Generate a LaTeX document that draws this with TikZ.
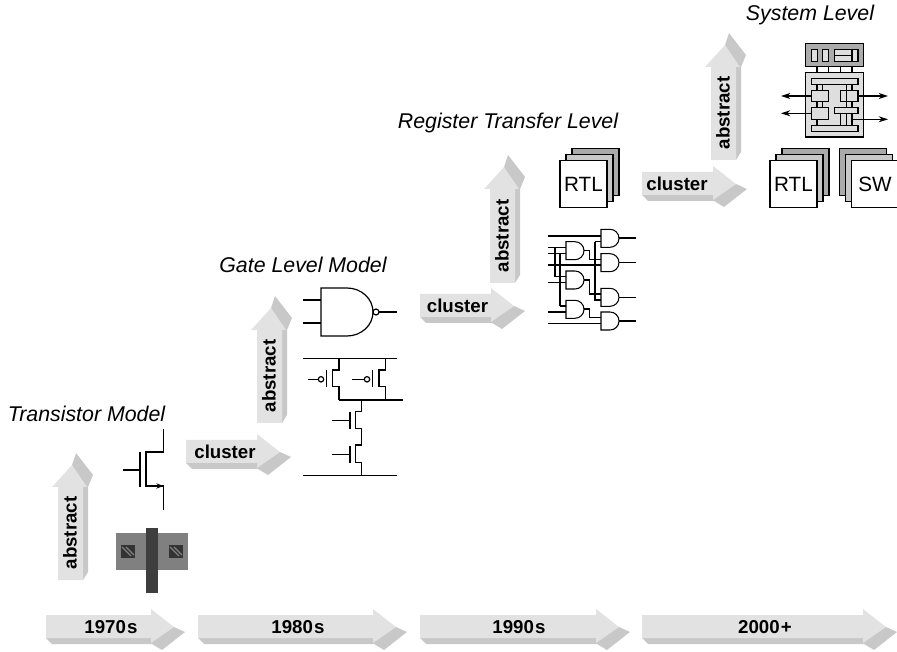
\documentclass[tikz,border=0pt]{standalone}
\usepackage{fontspec}
\setmainfont{Liberation Sans}
\usetikzlibrary{arrows.meta}
\definecolor{facecol}{RGB}{226, 226, 226}
\definecolor{sidecol}{RGB}{200, 200, 200}
\definecolor{polycol}{RGB}{62, 62, 62}
\definecolor{diffcol}{RGB}{128, 128, 128}
\definecolor{stackmid}{RGB}{200, 200, 200}
\definecolor{stackback}{RGB}{170, 170, 170}
\definecolor{sysdark}{RGB}{172, 172, 172}
\definecolor{syslight}{RGB}{222, 222, 222}

% flow arrow pointing right: name, left x, head x, top y, text x, text
\newcommand{\flowright}[6]{
    \fill[sidecol] (#2,#4+23) -- (#2+6,#4+29) -- (#3+1,#4+29) -- (#3+11,#4+35) -- (#3+34,#4+17) -- (#3+23,#4+12) -- (#3,#4+23) -- cycle;
    \fill[facecol] (#2,#4) -- (#3,#4) -- (#3,#4-6) -- (#3+23,#4+12) -- (#3,#4+28) -- (#3,#4+23) -- (#2,#4+23) -- cycle;
    \node[flowtext] (#1) at (#5,#4+12) {#6};
}
% flow arrow pointing up: name, left x, head y, bottom y
\newcommand{\flowup}[4]{
    \fill[sidecol] (#2+25,#4) -- (#2+30,#4-8) -- (#2+30,#3) -- (#2+35,#3-12) -- (#2+18,#3-34) -- (#2+14,#3-22) -- (#2+25,#3) -- cycle;
    \fill[facecol] (#2,#4) -- (#2+25,#4) -- (#2+25,#3) -- (#2+29,#3) -- (#2+14,#3-22) -- (#2-6,#3) -- (#2,#3) -- cycle;
    \node[flowtext, rotate=90] (#1) at (#2+12,#4-47) {abstract};
}
% stack of three sheets: left x and top y of the front sheet, step to the back sheets
\newcommand{\sheets}[3]{
    \draw[sheet, fill=stackback] (#1+2*#3,#2-12) rectangle ++(47,47);
    \draw[sheet, fill=stackmid] (#1+#3,#2-6) rectangle ++(47,47);
    \draw[sheet, fill=white] (#1,#2) rectangle ++(47,47);
}

\begin{document}
\begin{tikzpicture}[
        x=0.75pt, y=-0.75pt,
        flowtext/.style={font=\bfseries\fontsize{14}{15}\selectfont, inner sep=0pt},
        title/.style={font=\itshape\fontsize{16}{18}\selectfont, inner sep=0pt},
        sheettext/.style={font=\fontsize{15.5}{18}\selectfont, inner sep=0pt},
        wire/.style={line width=0.9pt},
        sheet/.style={line width=0.8pt},
        sysbox/.style={draw, line width=0.9pt, fill=syslight},
        gatebox/.style={draw, line width=0.8pt, fill=white}
    ]
    \useasboundingbox (0,0) rectangle (897,652);

    % Time line
    \flowright{t1970}{46}{151}{615}{111}{1970\kern1pt s}
    \flowright{t1980}{198}{373}{615}{298}{1980\kern1pt s}
    \flowright{t1990}{420}{596}{615}{519}{1990\kern1pt s}
    \flowright{t2000}{642}{863}{615}{765}{2000\kern1pt +}

    % Cluster arrows
    \flowright{cluster1}{186}{257}{440}{225}{cluster}
    \flowright{cluster2}{420}{491}{294}{457.5}{cluster}
    \flowright{cluster3}{642}{713}{172}{677}{cluster}

    % Abstract arrows
    \flowup{abstract1}{58}{487}{580}
    \flowup{abstract2}{257}{330}{423}
    \flowup{abstract3}{490}{189}{283}
    \flowup{abstract4}{711}{67}{160}

    % Level names
    \node[title] (transistor) at (86.5,414) {Transistor Model};
    \node[title] (gate) at (303,265) {Gate Level Model};
    \node[title] (register) at (508,123) {Register Transfer Level};
    \node[title] (system) at (810,15) {System Level};

    % Transistor symbol
    \draw[wire] (163.5,429) -- (163.5,452) -- (146,452) -- (146,486) -- (163.5,486) -- (163.5,510);
    \draw[wire] (140,452) -- (140,487);
    \draw[wire] (123,470) -- (140,470);
    \draw[wire, -{Stealth[length=5pt, width=4pt]}] (150,486) -- (163,486);

    % Transistor layout
    \fill[diffcol] (116,533) rectangle (188,570);
    \fill[polycol] (146,528) rectangle (158,593);
    \foreach \cx in {121,169} {
        \fill[black!80] (\cx,545) rectangle ++(14,13);
        \draw[diffcol, line width=0.8pt] (\cx+1,547) -- (\cx+10,556);
        \draw[diffcol, line width=0.8pt] (\cx+5,547) -- (\cx+13,555);
    }

    % NAND gate
    \draw[wire] (321,288) -- (347,288) arc[start angle=90, end angle=-90, x radius=26, y radius=-24] -- (321,336) -- cycle;
    \draw[wire] (376,312) circle[radius=3];
    \draw[wire] (379,312) -- (397,312);
    \draw[wire] (303,300) -- (321,300);
    \draw[wire] (303,323) -- (321,323);

    % Transistor network
    \draw[wire] (303.3,358.3) -- (396.7,358.3);
    \draw[wire] (339,358.3) -- (339,370) -- (332.3,370) -- (332.3,386.7) -- (339,386.7) -- (339,400);
    \draw[wire] (385.3,358.3) -- (385.3,370) -- (379,370) -- (379,386.7) -- (385.3,386.7) -- (385.3,400);
    \draw[wire] (339,400) -- (402.7,400);
    \draw[wire] (326.7,370) -- (326.7,386.7);
    \draw[wire] (372.3,370) -- (372.3,386.7);
    \draw[wire] (321,379.3) circle[radius=2.7];
    \draw[wire] (367,379.3) circle[radius=2.7];
    \draw[wire] (307.7,379.3) -- (318.3,379.3);
    \draw[wire] (352.3,379.3) -- (364.3,379.3);
    \draw[wire] (361.7,400) -- (361.7,411.7) -- (355.7,411.7) -- (355.7,428.3) -- (361.7,428.3) -- (361.7,445) -- (355.7,445) -- (355.7,462.3) -- (361.7,462.3) -- (361.7,475.7);
    \draw[wire] (350,411.7) -- (350,429);
    \draw[wire] (350,445.7) -- (350,463);
    \draw[wire] (331.7,420.7) -- (350,420.7);
    \draw[wire] (331.7,454.7) -- (350,454.7);
    \draw[wire] (303.3,475.7) -- (396.7,475.7);

    % RTL gate netlist
    \foreach \ya/\xa/\xb in {236/548.3/601, 247.7/548.3/566, 253.3/548.3/566, 265/548.3/601, 276.7/555/566, 282.7/548.3/566, 306/560/566, 312/548.3/566, 323.3/548.3/601} {
        \draw[wire] (\xa,\ya) -- (\xb,\ya);
    }
    \draw[wire] (555,247.7) -- (555,276.7);
    \draw[wire] (560,253.3) -- (560,306);
    \draw[wire] (584,250.7) -- (589.3,250.7) -- (589.3,259.3) -- (601,259.3);
    \draw[wire] (584,280) -- (589.3,280) -- (589.3,294) -- (601,294);
    \draw[wire] (584,309) -- (589.3,309) -- (589.3,317.7) -- (601,317.7);
    \draw[wire] (595,241.7) -- (595,300) -- (601,300);
    \draw[wire] (595,241.7) -- (601,241.7);
    \foreach \gx/\gy in {566/241.7, 566/271, 566/300.3, 601/229.3, 601/253.7, 601/288.3, 601/312} {
        \draw[gatebox] (\gx,\gy) -- (\gx+9,\gy) arc[start angle=90, end angle=-90, x radius=9, y radius=-9] -- (\gx,\gy+18) -- cycle;
    }
    \foreach \gy in {238,262.7,297.3,321} {
        \draw[wire] (619,\gy) -- (636,\gy);
    }

    % RTL and SW sheets
    \sheets{560}{160.5}{6}
    \node[sheettext] (rtl1) at (583.5,184.5) {RTL};
    \sheets{770}{160.5}{6}
    \node[sheettext] (rtl2) at (793.5,184.5) {RTL};
    \sheets{851.5}{160.5}{-6}
    \node[sheettext] (sw) at (875,184.5) {SW};

    % System block
    \draw[sysbox, fill=sysdark] (805.3,43.7) rectangle (863.7,66.7);
    \foreach \cx in {817,828.7,840.3,852} {
        \draw[wire] (\cx,66.7) -- (\cx,72.3);
    }
    \draw[sysbox] (811.3,49.3) rectangle (817.3,61.3);
    \draw[sysbox] (822.7,49.3) rectangle (828.7,61.3);
    \draw[sysbox] (834.7,49.3) rectangle (858,61.3);
    \draw[wire] (834.7,55.3) -- (852,55.3);
    \draw[wire] (852,49.3) -- (852,61.3);
    \draw[sysbox] (805.3,72.3) rectangle (863.7,137);
    \foreach \cx/\ya/\yb in {817/84.3/90.3, 822.7/84.3/90.3, 846.3/84.3/90.3, 852/84.3/90.3, 817/101.7/107.7, 822.7/101.7/107.7, 846.3/101.7/107.7, 852/101.7/107.7, 817/119.3/125.3, 840.3/113.3/125.3, 846.3/113.3/125.3, 852/113.3/125.3} {
        \draw[wire] (\cx,\ya) -- (\cx,\yb);
    }
    \draw[wire, -{Stealth[length=7pt, width=4.5pt]}] (811.3,96) -- (781,96);
    \draw[wire, -{Stealth[length=7pt, width=4.5pt]}] (811.3,113.3) -- (781,113.3);
    \draw[wire, -{Stealth[length=7pt, width=4.5pt]}] (858,96) -- (888,96);
    \draw[wire, -{Stealth[length=7pt, width=4.5pt]}] (852,119.3) -- (888,119.3);
    \draw[sysbox] (811.3,78.7) rectangle (858,84.3);
    \draw[sysbox] (811.3,90.3) rectangle (828.7,101.7);
    \draw[sysbox] (840.3,90.3) rectangle (858,101.7);
    \draw[wire] (846.3,90.3) -- (846.3,101.7);
    \draw[sysbox] (811.3,107.7) rectangle (828.7,119.3);
    \draw[sysbox] (834.7,107.7) rectangle (858,113.3);
    \draw[sysbox] (811.3,125.3) rectangle (858,131.3);
\end{tikzpicture}
\end{document}
